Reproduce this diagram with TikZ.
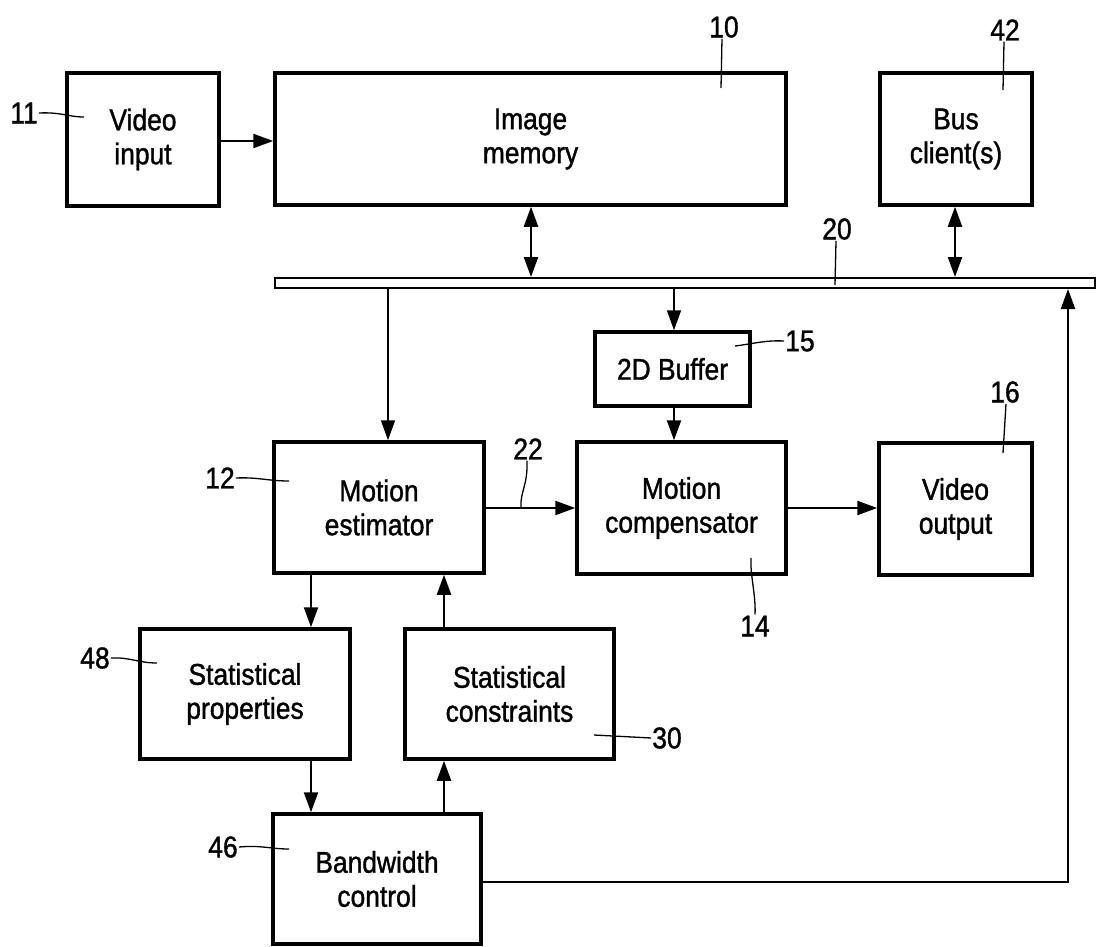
\documentclass[tikz,border=0pt]{standalone}
\usepackage{fontspec}
\setmainfont[FakeStretch=0.88,FakeBold=1.2]{Liberation Sans}
\usetikzlibrary{arrows.meta}
\begin{document}
\begin{tikzpicture}[x=1pt,y=-1pt,
 box/.style={draw,line width=3.5pt,inner sep=0pt,align=center,font=\fontsize{30}{34}\selectfont},
 lbl/.style={font=\fontsize{30}{34}\selectfont,inner sep=1pt},
 arr/.style={line width=2.2pt,-{Triangle[length=20pt,width=14pt]}},
 darr/.style={line width=2.2pt,{Triangle[length=20pt,width=14pt]}-{Triangle[length=20pt,width=14pt]}},
 lead/.style={line width=1.3pt}]
\useasboundingbox (0,0) rectangle (1097,947);
% boxes
\node[box,minimum width=152pt,minimum height=133pt] (vin) at (143,139.5) {Video\\input};
\node[box,minimum width=511pt,minimum height=132pt] (mem) at (530.5,139) {Image\\memory};
\node[box,minimum width=152pt,minimum height=132pt] (bc) at (956,139) {Bus\\client(s)};
\node[draw,line width=2pt,inner sep=0pt,minimum width=820pt,minimum height=10pt] (bus) at (685,283) {};
\node[box,minimum width=155pt,minimum height=74pt] (buf) at (672.5,369) {2D Buffer};
\node[box,minimum width=210pt,minimum height=131pt] (mest) at (379,507.5) {Motion\\estimator};
\node[box,minimum width=209pt,minimum height=132pt] (mcomp) at (681.5,508) {Motion\\compensator};
\node[box,minimum width=153pt,minimum height=132pt] (vout) at (955.5,509) {Video\\output};
\node[box,minimum width=210pt,minimum height=130pt] (sprop) at (245,694) {Statistical\\properties};
\node[box,minimum width=209pt,minimum height=130pt] (scons) at (509.5,694) {Statistical\\constraints};
\node[box,minimum width=208pt,minimum height=130pt] (bw) at (377,879) {Bandwidth\\control};
% reference coordinates
\coordinate (y1) at (0,141);
\coordinate (x1) at (531,0);
\coordinate (x2) at (955,0);
\coordinate (x3) at (388,0);
\coordinate (x4) at (674,0);
\coordinate (y2) at (0,508);
\coordinate (x5) at (311,0);
\coordinate (x6) at (444,0);
\coordinate (rc) at (1068,882);
% connectors
\draw[arr] (vin.east |- y1) -- (mem.west |- y1);
\draw[darr] (x1 |- mem.south) -- (x1 |- bus.north);
\draw[darr] (x2 |- bc.south) -- (x2 |- bus.north);
\draw[arr,line width=1.6pt] (x3 |- bus.south) -- (x3 |- mest.north);
\draw[arr,line width=1.6pt] (x4 |- bus.south) -- (x4 |- buf.north);
\draw[arr] (x4 |- buf.south) -- (x4 |- mcomp.north);
\draw[arr] (mest.east |- y2) -- (mcomp.west |- y2);
\draw[arr] (mcomp.east |- y2) -- (vout.west |- y2);
\draw[arr] (x5 |- mest.south) -- (x5 |- sprop.north);
\draw[arr] (x6 |- scons.north) -- (x6 |- mest.south);
\draw[arr] (x5 |- sprop.south) -- (x5 |- bw.north);
\draw[arr] (x6 |- bw.north) -- (x6 |- scons.south);
\draw[arr] (bw.east |- rc) -- (rc) -- (rc |- bus.south);
% reference labels
\node[lbl] (l11) at (24,113) {11};
\draw[lead] (l11.east) .. controls (62,112) and (68,117) .. (84,117);
\node[lbl] (l10) at (724,27) {10};
\draw[lead] (l10.south) ++(-2,0) -- (721,88);
\node[lbl] (l42) at (1005,30) {42};
\draw[lead] (l42.south) ++(-1,0) -- (1003,90);
\node[lbl] (l20) at (837,229) {20};
\draw[lead] (l20.south) ++(-1,0) -- (835,285);
\node[lbl] (l15) at (800,341) {15};
\draw[lead] (l15.west) .. controls (765,340) and (752,344) .. (735,346);
\node[lbl] (l16) at (1005,392) {16};
\draw[lead] (l16.south) ++(1,0) -- (1003,453);
\node[lbl] (l12) at (220,478) {12};
\draw[lead] (l12.east) .. controls (258,477) and (268,481) .. (289,481);
\node[lbl] (l22) at (528,449) {22};
\draw[lead] (l22.south) ++(-1,0) .. controls (528,485) and (520,492) .. (521,507);
\node[lbl] (l14) at (755,626) {14};
\draw[lead] (l14.north) .. controls (756,595) and (750,575) .. (751,558);
\node[lbl] (l48) at (95,658) {48};
\draw[lead] (l48.east) .. controls (130,657) and (138,663) .. (157,663);
\node[lbl] (l46) at (223,847) {46};
\draw[lead] (l46.east) .. controls (262,845) and (270,849) .. (289,849);
\node[lbl] (l30) at (667,738) {30};
\draw[lead] (l30.west) -- (594,735);
\end{tikzpicture}
\end{document}
